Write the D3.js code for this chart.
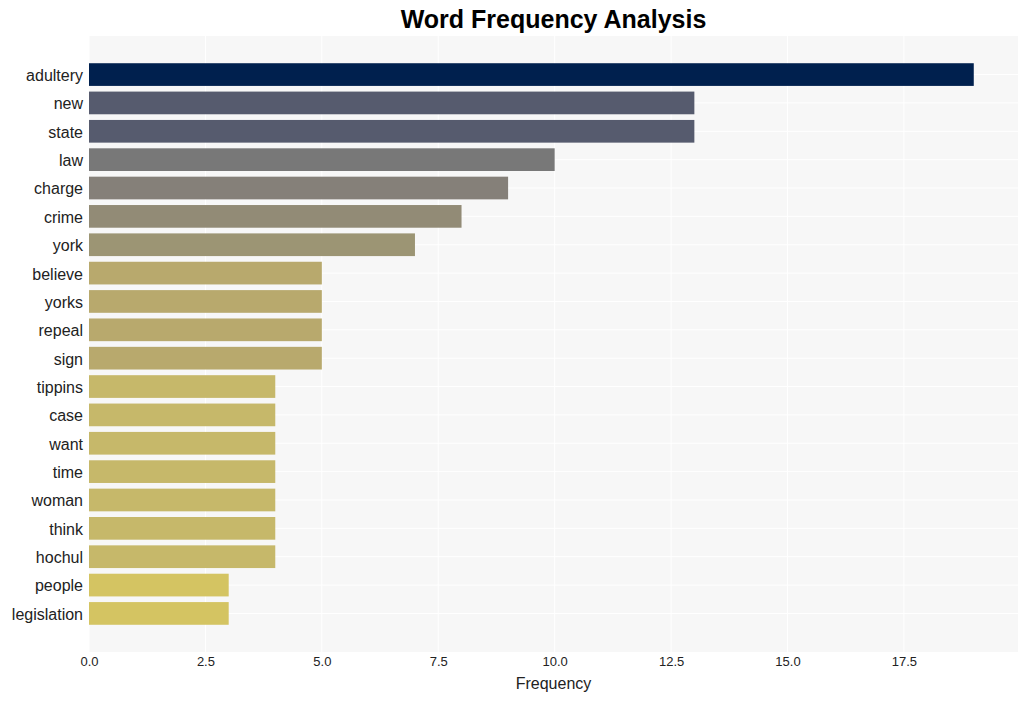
<!DOCTYPE html>
<html>
<head>
<meta charset="utf-8">
<script src="https://cdn.jsdelivr.net/npm/d3@7"></script>
<style>
  html, body { margin: 0; padding: 0; background: #ffffff; }
  svg { display: block; font-family: "Liberation Sans", Arial, sans-serif; }
</style>
</head>
<body>
<svg id="chart" width="1028" height="701"></svg>
<script>
const words = ["adultery","new","state","law","charge","crime","york","believe","yorks","repeal","sign","tippins","case","want","time","woman","think","hochul","people","legislation"];
const counts = [19,13,13,10,9,8,7,5,5,5,5,4,4,4,4,4,4,4,3,3];
const barColors = ["#00204e","#565b6e","#565b6e","#787878","#858079","#928b76","#9c9574","#b8a96d","#b8a96d","#b8a96d","#b8a96d","#c6b86a","#c6b86a","#c6b86a","#c6b86a","#c6b86a","#c6b86a","#c6b86a","#d4c462","#d4c462"];
const xTicks = [0, 2.5, 5, 7.5, 10, 12.5, 15, 17.5];

const svg = d3.select("#chart");
const mLeft = 89, mRight = 1018, mTop = 36, mBottom = 652;

const x = d3.scaleLinear().domain([0, 19.95]).range([mLeft, mRight]);
const y = d3.scaleBand().domain(words).range([mTop, mBottom]).paddingInner(0.2).paddingOuter(0.96);

svg.append("rect").attr("x", mLeft).attr("y", mTop).attr("width", mRight - mLeft).attr("height", mBottom - mTop).attr("fill", "#f7f7f7");

svg.append("g").selectAll("line").data(xTicks).join("line")
  .attr("x1", d => x(d)).attr("x2", d => x(d)).attr("y1", mTop).attr("y2", mBottom)
  .attr("stroke", "#ffffff").attr("stroke-width", 1);
svg.append("g").selectAll("line").data(words).join("line")
  .attr("x1", mLeft).attr("x2", mRight)
  .attr("y1", d => y(d) + y.bandwidth() / 2).attr("y2", d => y(d) + y.bandwidth() / 2)
  .attr("stroke", "#ffffff").attr("stroke-width", 1);

svg.append("g").selectAll("rect").data(words).join("rect")
  .attr("x", x(0)).attr("y", d => y(d))
  .attr("width", (d, i) => x(counts[i]) - x(0))
  .attr("height", y.bandwidth())
  .attr("fill", (d, i) => barColors[i]);

const xAxis = svg.append("g").attr("transform", `translate(0,${mBottom})`)
  .call(d3.axisBottom(x).tickValues(xTicks).tickFormat(d3.format(".1f")).tickSize(0).tickPadding(5));
xAxis.select(".domain").remove();
xAxis.selectAll("text").attr("font-size", 13).attr("fill", "#222").attr("font-family", "Liberation Sans, Arial, sans-serif");

const yAxis = svg.append("g").attr("transform", `translate(${mLeft},0)`)
  .call(d3.axisLeft(y).tickSize(0).tickPadding(6));
yAxis.select(".domain").remove();
yAxis.selectAll("text").attr("font-size", 16).attr("dy", "0.4em").attr("fill", "#222").attr("font-family", "Liberation Sans, Arial, sans-serif");

svg.append("text").attr("x", (mLeft + mRight) / 2).attr("y", 689)
  .attr("text-anchor", "middle").attr("font-size", 16).attr("fill", "#222")
  .text("Frequency");

svg.append("text").attr("x", (mLeft + mRight) / 2).attr("y", 28)
  .attr("text-anchor", "middle").attr("font-size", 25).attr("font-weight", "bold").attr("fill", "#000")
  .text("Word Frequency Analysis");
</script>
</body>
</html>
